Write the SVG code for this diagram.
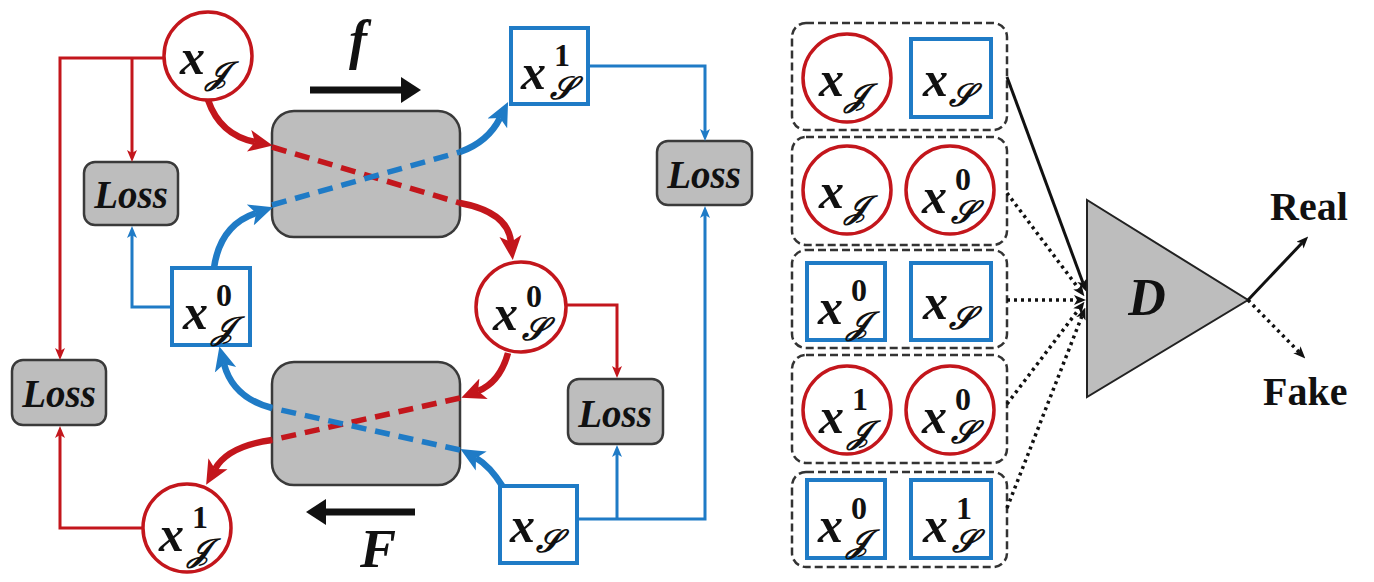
<svg xmlns="http://www.w3.org/2000/svg" width="1374" height="582" viewBox="0 0 1374 582">
<defs>
<style>
.m{font-family:"Liberation Serif",serif;font-style:italic;font-weight:bold;font-size:50px;fill:#111}
.sb{font-size:32px}
.sp{font-size:32px;font-style:normal}
.lbl{font-family:"Liberation Serif",serif;font-style:italic;font-weight:bold;font-size:39px;fill:#111;text-anchor:middle}
.bt{font-family:"Liberation Serif",serif;font-weight:bold;font-size:40px;fill:#111}
.rc{fill:#fff;stroke:#c3161c;stroke-width:3.5}
.bs{fill:#fff;stroke:#1f7bc6;stroke-width:4}
.gb{fill:#bdbdbd;stroke:#3a3a3a;stroke-width:2.5}
.grp{fill:none;stroke:#333;stroke-width:2.5;stroke-dasharray:8 4}
.tr{fill:none;stroke:#c3161c;stroke-width:3}
.tb{fill:none;stroke:#1f7bc6;stroke-width:3}
.kr{fill:none;stroke:#c3161c;stroke-width:6.5}
.kb{fill:none;stroke:#1f7bc6;stroke-width:6.5}
.dr{fill:none;stroke:#c3161c;stroke-width:5.5;stroke-dasharray:15 9}
.db{fill:none;stroke:#1f7bc6;stroke-width:5.5;stroke-dasharray:15 9}
.ks{fill:none;stroke:#111;stroke-width:3}
.kd{fill:none;stroke:#111;stroke-width:3.5;stroke-dasharray:3 4}
</style>
<marker id="arR" markerUnits="userSpaceOnUse" markerWidth="24" markerHeight="24" viewBox="0 0 24 24" refX="6" refY="12" orient="auto"><path d="M0,1 L24,12 L0,23 L6,12 z" fill="#c3161c"/></marker>
<marker id="arB" markerUnits="userSpaceOnUse" markerWidth="24" markerHeight="24" viewBox="0 0 24 24" refX="6" refY="12" orient="auto"><path d="M0,1 L24,12 L0,23 L6,12 z" fill="#1f7bc6"/></marker>
<marker id="atR" markerUnits="userSpaceOnUse" markerWidth="12" markerHeight="10" viewBox="0 0 12 10" refX="3" refY="5" orient="auto"><path d="M0,0 L12,5 L0,10 L3,5 z" fill="#c3161c"/></marker>
<marker id="atB" markerUnits="userSpaceOnUse" markerWidth="12" markerHeight="10" viewBox="0 0 12 10" refX="3" refY="5" orient="auto"><path d="M0,0 L12,5 L0,10 L3,5 z" fill="#1f7bc6"/></marker>
<marker id="atK" markerUnits="userSpaceOnUse" markerWidth="12" markerHeight="10" viewBox="0 0 12 10" refX="3" refY="5" orient="auto"><path d="M0,0 L12,5 L0,10 L3,5 z" fill="#111"/></marker>
<marker id="abK" markerUnits="userSpaceOnUse" markerWidth="20" markerHeight="26" viewBox="0 0 20 26" refX="1" refY="13" orient="auto"><path d="M0,0 L20,13 L0,26 z" fill="#111"/></marker>
</defs>
<rect width="1374" height="582" fill="#fff"/>

<g id="gen-f"><rect class="gb" x="272" y="111" width="188" height="126" rx="22"/></g>
<g id="gen-F"><rect class="gb" x="272" y="362" width="188" height="123" rx="22"/></g>

<g id="xJ"><circle class="rc" cx="208" cy="56" r="44"/><text class="m" x="180" y="74">x<tspan class="sb" x="206" y="84">𝒥</tspan></text></g>
<g id="xJ0"><rect class="bs" x="172" y="268" width="78" height="77"/><text class="m" x="183" y="329">x<tspan class="sp" x="216" y="306">0</tspan><tspan class="sb" x="212" y="339">𝒥</tspan></text></g>
<g id="xJ1"><circle class="rc" cx="187" cy="528" r="44"/><text class="m" x="159" y="551">x<tspan class="sp" x="192" y="528">1</tspan><tspan class="sb" x="188" y="561">𝒥</tspan></text></g>
<g id="xS1"><rect class="bs" x="511" y="28" width="77" height="76"/><text class="m" x="521" y="89">x<tspan class="sp" x="554" y="66">1</tspan><tspan class="sb" x="550" y="99">𝒮</tspan></text></g>
<g id="xS0"><circle class="rc" cx="521" cy="307" r="45"/><text class="m" x="493" y="330">x<tspan class="sp" x="526" y="307">0</tspan><tspan class="sb" x="522" y="340">𝒮</tspan></text></g>
<g id="xS"><rect class="bs" x="500" y="486" width="77" height="77"/><text class="m" x="510" y="542">x<tspan class="sb" x="536" y="552">𝒮</tspan></text></g>

<g id="loss1"><rect class="gb" x="84" y="162" width="94" height="63" rx="11"/><text class="lbl" x="131" y="208">Loss</text></g>
<g id="loss2"><rect class="gb" x="12" y="360" width="94" height="65" rx="11"/><text class="lbl" x="59" y="407">Loss</text></g>
<g id="loss3"><rect class="gb" x="657" y="141" width="95" height="64" rx="11"/><text class="lbl" x="704" y="188">Loss</text></g>
<g id="loss4"><rect class="gb" x="568" y="379" width="95" height="65" rx="11"/><text class="lbl" x="615" y="427">Loss</text></g>

<g id="label-f"><text x="358" y="58" class="lbl" style="font-size:54px">f</text></g>
<g id="label-F"><text x="378" y="567" class="lbl" style="font-size:54px">F</text></g>

<g id="pair1"><rect class="grp" x="792" y="23" width="215" height="107" rx="14"/>
<circle class="rc" cx="847" cy="78" r="44"/><text class="m" x="819" y="96">x<tspan class="sb" x="845" y="106">𝒥</tspan></text>
<rect class="bs" x="911" y="39" width="80" height="78"/><text class="m" x="923" y="96">x<tspan class="sb" x="949" y="106">𝒮</tspan></text></g>
<g id="pair2"><rect class="grp" x="792" y="137" width="215" height="108" rx="14"/>
<circle class="rc" cx="847" cy="190" r="44"/><text class="m" x="819" y="208">x<tspan class="sb" x="845" y="218">𝒥</tspan></text>
<circle class="rc" cx="950" cy="190" r="44"/><text class="m" x="922" y="213">x<tspan class="sp" x="955" y="190">0</tspan><tspan class="sb" x="951" y="223">𝒮</tspan></text></g>
<g id="pair3"><rect class="grp" x="792" y="250" width="215" height="98" rx="14"/>
<rect class="bs" x="807" y="263" width="78" height="77"/><text class="m" x="818" y="324">x<tspan class="sp" x="851" y="301">0</tspan><tspan class="sb" x="847" y="334">𝒥</tspan></text>
<rect class="bs" x="911" y="263" width="80" height="77"/><text class="m" x="923" y="319">x<tspan class="sb" x="949" y="329">𝒮</tspan></text></g>
<g id="pair4"><rect class="grp" x="792" y="355" width="215" height="108" rx="14"/>
<circle class="rc" cx="847" cy="410" r="44"/><text class="m" x="819" y="433">x<tspan class="sp" x="852" y="410">1</tspan><tspan class="sb" x="848" y="443">𝒥</tspan></text>
<circle class="rc" cx="950" cy="410" r="44"/><text class="m" x="922" y="433">x<tspan class="sp" x="955" y="410">0</tspan><tspan class="sb" x="951" y="443">𝒮</tspan></text></g>
<g id="pair5"><rect class="grp" x="792" y="472" width="215" height="95" rx="14"/>
<rect class="bs" x="807" y="480" width="78" height="78"/><text class="m" x="818" y="542">x<tspan class="sp" x="851" y="519">0</tspan><tspan class="sb" x="847" y="552">𝒥</tspan></text>
<rect class="bs" x="911" y="480" width="80" height="78"/><text class="m" x="923" y="542">x<tspan class="sp" x="956" y="519">1</tspan><tspan class="sb" x="952" y="552">𝒮</tspan></text></g>

<g id="D"><polygon points="1087,200 1087,397 1248,300" fill="#bdbdbd" stroke="#222" stroke-width="2"/><text x="1147" y="315" class="lbl" style="font-size:52px">D</text></g>
<g id="real"><text x="1270" y="220" class="bt">Real</text></g>
<g id="fake"><text x="1263" y="405" class="bt">Fake</text></g>

<g id="connectors">
<path class="dr" d="M272,147 L460,203"/>
<path class="db" d="M272,205 L460,152"/>
<path class="dr" d="M460,398 L272,440"/>
<path class="db" d="M460,450 L272,408"/>
<path class="kr" d="M208,100 Q220,135 255,142" marker-end="url(#arR)"/>
<path class="kr" d="M460,203 Q508,212 511,242" marker-end="url(#arR)"/>
<path class="kb" d="M460,152 Q488,142 500,118" marker-end="url(#arB)"/>
<path class="kb" d="M214,268 Q220,225 256,213" marker-end="url(#arB)"/>
<path class="kb" d="M272,408 Q233,398 224,364" marker-end="url(#arB)"/>
<path class="kr" d="M272,440 Q228,446 215,469" marker-end="url(#arR)"/>
<path class="kr" d="M508,353 Q500,382 478,391" marker-end="url(#arR)"/>
<path class="kb" d="M503,487 Q490,466 476,458" marker-end="url(#arB)"/>
<path class="tr" d="M163,58 H60 V351" marker-end="url(#atR)"/>
<path class="tr" d="M132,58 V153" marker-end="url(#atR)"/>
<path class="tb" d="M172,307 H132 V235" marker-end="url(#atB)"/>
<path class="tr" d="M143,528 H60 V435" marker-end="url(#atR)"/>
<path class="tb" d="M588,66 H705 V132" marker-end="url(#atB)"/>
<path class="tr" d="M567,305 H617 V369" marker-end="url(#atR)"/>
<path class="tb" d="M577,519 H705 V215" marker-end="url(#atB)"/>
<path class="tb" d="M617,519 V454" marker-end="url(#atB)"/>
<path d="M310,90 H402" stroke="#111" stroke-width="7" fill="none" marker-end="url(#abK)"/>
<path d="M415,512 H325" stroke="#111" stroke-width="7" fill="none" marker-end="url(#abK)"/>
<path class="ks" d="M1007,77 L1083,283" marker-end="url(#atK)"/>
<path class="kd" d="M1007,193 L1079,289" marker-end="url(#atK)"/>
<path class="kd" d="M1007,300 L1077,300" marker-end="url(#atK)"/>
<path class="kd" d="M1007,404 L1079,309" marker-end="url(#atK)"/>
<path class="kd" d="M1007,508 L1082,316" marker-end="url(#atK)"/>
<path class="ks" d="M1248,300 L1302,243" marker-end="url(#atK)"/>
<path class="kd" d="M1248,300 L1299,352" marker-end="url(#atK)"/>
</g>
</svg>
